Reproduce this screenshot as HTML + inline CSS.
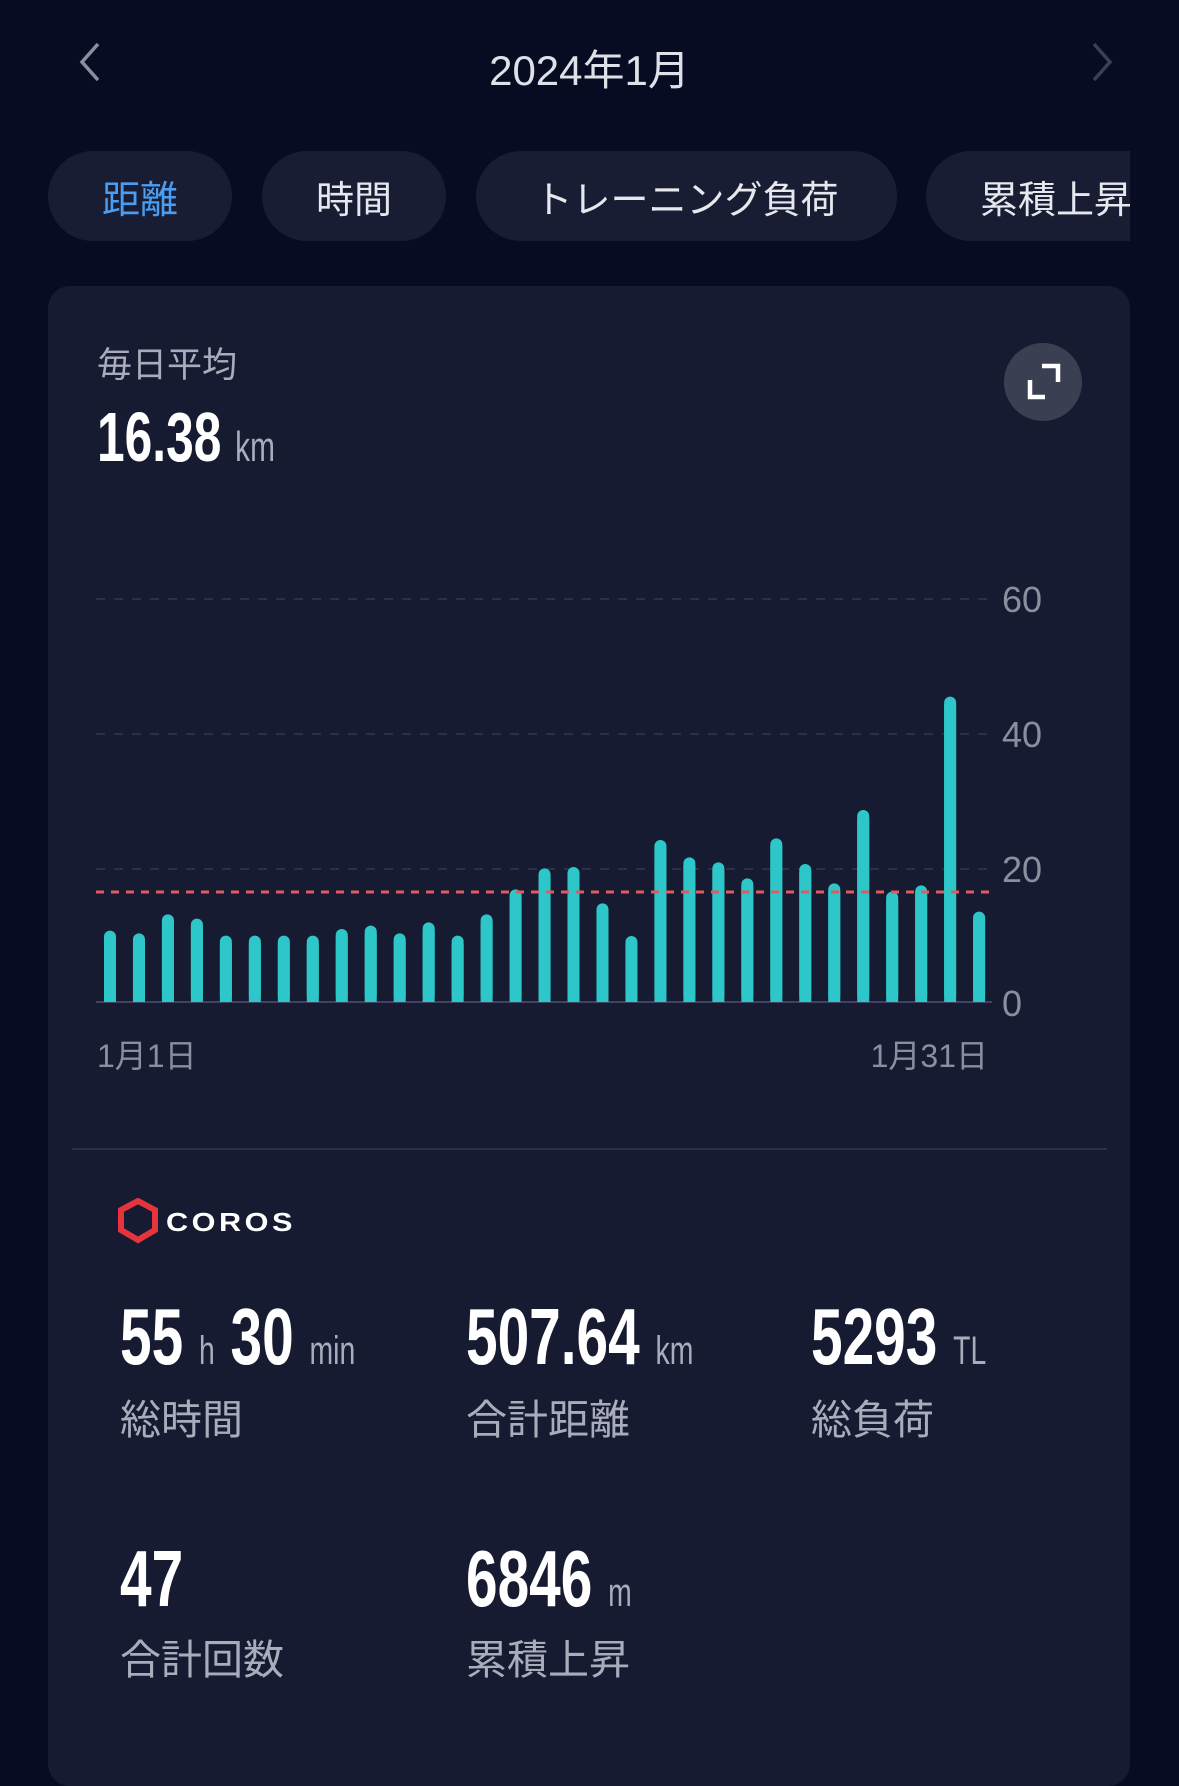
<!DOCTYPE html>
<html><head><meta charset="utf-8"><style>
body{margin:0;width:1179px;height:1757px;background:#080c22;position:relative;overflow:hidden;font-family:"Liberation Sans","Noto Sans CJK JP",sans-serif;color:#fff}
.a{position:absolute;white-space:nowrap}
.tab{position:absolute;top:151px;height:90px;background:#181d33;border-radius:45px;font-size:38px;color:#e6e8ee;display:flex;align-items:center;justify-content:center}
.n{position:absolute;white-space:nowrap;font-weight:bold;transform:scaleX(0.71);transform-origin:left top;line-height:1}
.u{font-size:40px;color:#a9adbb;font-weight:normal}
.lb{position:absolute;font-size:41px;color:#a9adbb;line-height:1}
</style></head><body>
<svg class="a" style="left:0;top:0" width="1179" height="140">
<polyline points="98,44 82,62 98,80" fill="none" stroke="#8a8fa0" stroke-width="3.5"/>
<polyline points="1094,44 1110,62 1094,80" fill="none" stroke="#3a3f55" stroke-width="3.5"/>
</svg>
<div class="a" style="left:0;width:1179px;top:37px;text-align:center;font-size:42px;color:#dfe1e8">2024年1月</div>
<div class="tab" style="left:48px;width:184px;color:#4a9df0">距離</div>
<div class="tab" style="left:262px;width:184px">時間</div>
<div class="tab" style="left:476px;width:421px">トレーニング負荷</div>
<div class="tab" style="left:926px;width:260px;justify-content:flex-start;padding-left:54px;box-sizing:border-box;border-radius:45px 0 0 45px">累積上昇</div>
<div class="a" style="left:1130px;top:140px;width:60px;height:110px;background:#080c22"></div>
<div class="a" style="left:48px;top:286px;width:1082px;height:1500px;background:#161b31;border-radius:22px"></div>
<div class="a" style="left:97px;top:337px;font-size:35px;color:#a9adbb">毎日平均</div>
<div class="n" style="left:97px;top:402px;font-size:70px">16.38 <span class="u" style="font-size:42px">km</span></div>
<svg class="a" style="left:1004px;top:343px" width="78" height="78">
<circle cx="39" cy="39" r="39" fill="#3a3f52"/>
<polyline points="26,37 26,54 41,54" fill="none" stroke="#fff" stroke-width="4.5"/>
<polyline points="38,23 54,23 54,39" fill="none" stroke="#fff" stroke-width="4.5"/>
</svg>
<svg class="a" style="left:0;top:560px" width="1179" height="520" font-family="Liberation Sans, sans-serif">
<g stroke="#323850" stroke-width="1.5" stroke-dasharray="9,9">
<line x1="96" y1="39" x2="992" y2="39"/><line x1="96" y1="174" x2="992" y2="174"/><line x1="96" y1="309" x2="992" y2="309"/>
</g>
<line x1="96" y1="442" x2="992" y2="442" stroke="#3e4460" stroke-width="2"/>
<g fill="#8a8fa0" font-size="36"><text x="1002" y="52">60</text><text x="1002" y="187">40</text><text x="1002" y="322">20</text><text x="1002" y="456">0</text></g>
<g id="bars" fill="#2ec7c9"></g>
<line x1="96" y1="332" x2="992" y2="332" stroke="#e05a5e" stroke-width="3" stroke-dasharray="8,7"/>
<g fill="#8a8fa0" font-size="32" font-family="Liberation Sans, Noto Sans CJK JP, sans-serif"><text x="97" y="507">1月1日</text><text x="988" y="507" text-anchor="end">1月31日</text></g>
</svg>
<script>
var t=[1112,1120,1063,1076,1127,1127,1127,1127,1107,1097,1120,1087,1127,1063,988,925,921,1030,1128,840,892,907,955,835,912,970,750,995,976,410,1055];
var g=document.getElementById('bars'),s='';
for(var i=0;i<31;i++){var x=110+i*28.97,y=t[i]/3;s+='<rect x="'+(x-6)+'" y="'+y+'" width="12" height="'+(442-y)+'" rx="6"/><rect x="'+(x-6)+'" y="'+(y+8)+'" width="12" height="'+(442-y-8)+'"/>';}
g.innerHTML=s;
</script>
<div class="a" style="left:72px;top:1148px;width:1035px;height:2px;background:#2b3048"></div>
<svg class="a" style="left:118px;top:1198px" width="190" height="46">
<polygon points="20,3 37,12 37,32 20,42 3,32 3,12" fill="none" stroke="#e5343d" stroke-width="6"/>
<text x="48" y="33" font-family="Liberation Sans, sans-serif" font-weight="bold" font-size="26" fill="#fff" letter-spacing="3" textLength="130" lengthAdjust="spacingAndGlyphs">COROS</text>
</svg>
<div class="n" style="left:120px;top:1297px;font-size:80px">55 <span class="u">h</span> 30 <span class="u">min</span></div>
<div class="n" style="left:466px;top:1297px;font-size:80px">507.64 <span class="u">km</span></div>
<div class="n" style="left:811px;top:1297px;font-size:80px">5293 <span class="u">TL</span></div>
<div class="lb" style="left:120px;top:1400px">総時間</div>
<div class="lb" style="left:466px;top:1400px">合計距離</div>
<div class="lb" style="left:811px;top:1400px">総負荷</div>
<div class="n" style="left:120px;top:1539px;font-size:80px">47</div>
<div class="n" style="left:466px;top:1539px;font-size:80px">6846 <span class="u">m</span></div>
<div class="lb" style="left:120px;top:1640px">合計回数</div>
<div class="lb" style="left:466px;top:1640px">累積上昇</div>
</body></html>
